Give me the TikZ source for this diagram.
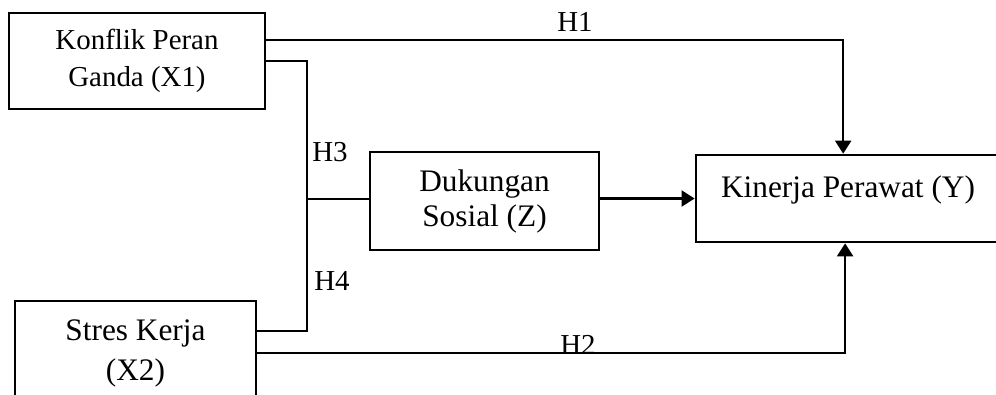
\documentclass[tikz,border=0pt]{standalone}
\usepackage{fontspec}
\setmainfont{Liberation Serif}
\usetikzlibrary{arrows.meta}

\begin{document}
\begin{tikzpicture}[x=0.415pt,y=-0.415pt]
		\tikzstyle{var} = [rectangle,draw,line width=1.1pt,align=center,inner sep=0pt,font=\fontsize{13}{16}\selectfont]
		\tikzstyle{hyp} = [inner sep=0pt,font=\fontsize{12}{14}\selectfont]
		\tikzstyle{arr} = [line width=1pt,-{Triangle[length=5.4pt,width=6.6pt]}]
		\tikzstyle{thinline} = [line width=0.5pt]
		
		\clip (0,0) rectangle (996,394);
		
		\node[var,minimum width=106.2pt,minimum height=39.8pt,font=\fontsize{12}{15.4}\selectfont] (x1) at (137,61) {Konflik Peran\\Ganda (X1)};
		\node[var,minimum width=100pt,minimum height=43.2pt,font=\fontsize{13}{16.6}\selectfont] (x2) at (135.5,353) {Stres Kerja\\(X2)};
		\node[var,minimum width=95pt,minimum height=40.7pt,font=\fontsize{13}{14.5}\selectfont] (z) at (484.5,201) {Dukungan\\Sosial (Z)};
		\node[var,minimum width=126.2pt,text height=17.8pt,text depth=18.3pt] (y) at (848,198.5) {Kinerja Perawat (Y)};
		
		\coordinate (j) at (307,199);
		
		\draw[arr] ([yshift=8.7pt]x1.east) -| ([xshift=-2pt]y.north);
		\draw[arr] (x2.east) -| ([xshift=-1.2pt]y.south);
		\draw[arr] (y.west -| z.east) -- (y.west);
		
		\draw[thinline] (x1.east) -| (j) |- ([yshift=9.1pt]x2.east);
		\draw[thinline] (j) -- (j -| z.west);
		
		\node[hyp] (h1) at (575,22) {H1};
		\node[hyp] (h2) at (578,345) {H2};
		\node[hyp] (h3) at (330,152) {H3};
		\node[hyp] (h4) at (332,281) {H4};
	\end{tikzpicture}
\end{document}
